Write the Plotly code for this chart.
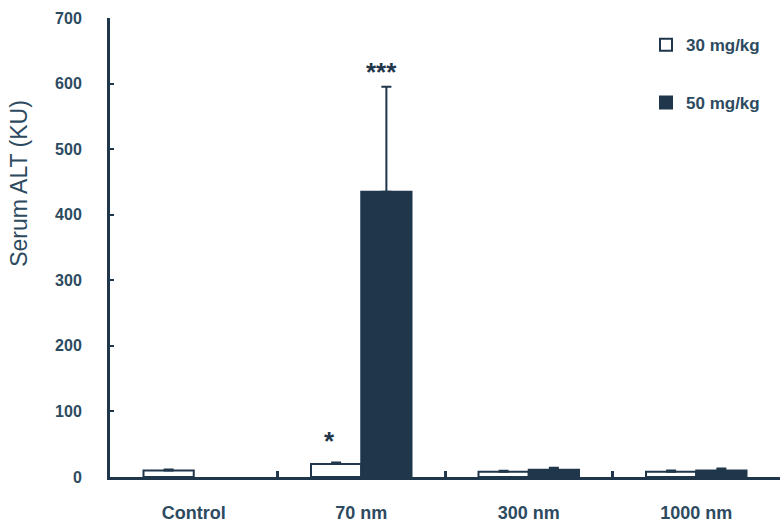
import plotly.graph_objects as go

categories = ["Control", "70 nm", "300 nm", "1000 nm"]
dose30_vals = [10, 20, 8, 8]
dose30_err = [1.5, 2, 1.5, 2]
dose50_vals = [None, 435, 11, 10]
dose50_err = [0, 160, 3, 3]
y_ticks = [0, 100, 200, 300, 400, 500, 600, 700]
stars = [("70 nm", -0.19, 55, "*"), ("70 nm", 0.12, 618, "***")]

DARK = "#1f364b"
TXT = "#2d4a5f"
FONT = "Liberation Sans, Arial"

fig = go.Figure()
fig.add_trace(go.Bar(
    x=categories, y=dose30_vals, name="<b>30 mg/kg</b>",
    marker=dict(color="white", line=dict(color=DARK, width=2)),
    error_y=dict(type="data", array=dose30_err, arrayminus=[0]*4, symmetric=False,
                 color=DARK, thickness=2, width=5),
    legend="legend",
))
fig.add_trace(go.Bar(
    x=categories, y=dose50_vals, name="<b>50 mg/kg</b>",
    marker=dict(color=DARK, line=dict(color=DARK, width=2)),
    error_y=dict(type="data", array=dose50_err, arrayminus=[0]*4, symmetric=False,
                 color=DARK, thickness=2, width=5),
    legend="legend2",
))

cat_index = {c: i for i, c in enumerate(categories)}
for cat, off, yv, txt in stars:
    fig.add_annotation(x=cat_index[cat] + off, y=yv, text="<b>" + txt + "</b>",
                       showarrow=False, font=dict(size=26, color=DARK, family=FONT),
                       xref="x", yref="y")

fig.add_annotation(text="Serum ALT (KU)", textangle=-90, xref="paper", yref="paper",
                   x=-0.135, y=0.64, xanchor="center", yanchor="middle", showarrow=False,
                   font=dict(size=23, color=TXT, family=FONT))

leg_common = dict(xanchor="left", yanchor="middle", bgcolor="rgba(0,0,0,0)",
                  font=dict(size=17, color=TXT, family=FONT), itemwidth=30)
fig.update_layout(
    width=780, height=527,
    margin=dict(l=110, r=0, t=18, b=50),
    plot_bgcolor="white", paper_bgcolor="white",
    barmode="group", bargap=0.4, bargroupgap=0,
    font=dict(family=FONT, color=TXT),
    legend=dict(x=0.80, y=0.941, **leg_common),
    legend2=dict(x=0.80, y=0.815, **leg_common),
    showlegend=True,
)
fig.update_xaxes(
    type="category", range=[-0.5, 3.5],
    showline=True, linecolor=DARK, linewidth=3,
    ticks="inside", tickson="boundaries", ticklen=6, tickwidth=3, tickcolor=DARK,
    tickfont=dict(size=18, color=TXT, family=FONT),
    ticklabelstandoff=17,
    tickvals=categories, ticktext=["<b>" + c + "</b>" for c in categories],
    showgrid=False, zeroline=False,
)
fig.update_yaxes(
    range=[0, 700], tickvals=y_ticks, ticktext=["<b>%d</b>" % v for v in y_ticks],
    showline=True, linecolor=DARK, linewidth=3,
    ticks="inside", ticklen=4, tickwidth=2, tickcolor=DARK,
    tickfont=dict(size=16, color=TXT, family=FONT),
    ticklabelstandoff=22,
    showgrid=False, zeroline=False,
)
fig.write_html("out.html", config={"displayModeBar": False},
               post_script="document.body.style.margin='0';")
